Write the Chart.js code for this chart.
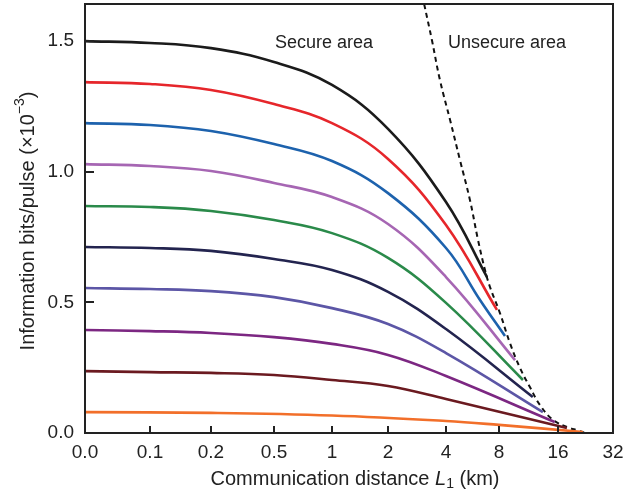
<!DOCTYPE html>
<html>
<head>
<meta charset="utf-8">
<script src="https://cdn.jsdelivr.net/npm/chart.js@4.4.1/dist/chart.umd.min.js"></script>
<style>
  html, body { margin: 0; padding: 0; background: #fff; }
  #wrap { width: 643px; height: 495px; }
</style>
</head>
<body>
<div id="wrap"><canvas id="c" width="643" height="495"></canvas></div>
<script>
// x axis: uneven break points drawn at (almost) equal spacing
const xTickValues = [0, 0.1, 0.2, 0.5, 1, 2, 4, 8, 16, 32];
const xTickLabels = ["0.0", "0.1", "0.2", "0.5", "1", "2", "4", "8", "16", "32"];
const yTickValues = [0, 0.5, 1.0, 1.5];

// curves, distance in km / information bits per pulse (x10^-3)
const baseKm = [0, 0.1, 0.2, 0.5, 1, 2, 4];
const blackKm = baseKm.concat([6.84]);
const blackVal = [1.5, 1.493, 1.473, 1.42, 1.332, 1.164, 0.884, 0.597];
const redKm = baseKm.concat([7.79]);
const redVal = [1.343, 1.336, 1.313, 1.259, 1.186, 1.049, 0.796, 0.471];
const blueKm = baseKm.concat([6.24, 8.58]);
const blueVal = [1.186, 1.179, 1.156, 1.106, 1.041, 0.918, 0.708, 0.509, 0.371];
const orchidKm = baseKm.concat([9.66]);
const orchidVal = [1.029, 1.022, 1.003, 0.957, 0.903, 0.8, 0.597, 0.279];
const greenKm = baseKm.concat([10.6]);
const greenVal = [0.869, 0.865, 0.85, 0.815, 0.765, 0.67, 0.498, 0.203];
const navyKm = baseKm.concat([11.9]);
const navyVal = [0.712, 0.708, 0.697, 0.666, 0.624, 0.54, 0.398, 0.138];
const slateKm = baseKm.concat([13.4]);
const slateVal = [0.555, 0.551, 0.543, 0.52, 0.478, 0.417, 0.306, 0.08];
const purpleKm = baseKm.concat([15.4]);
const purpleVal = [0.394, 0.39, 0.383, 0.367, 0.341, 0.299, 0.218, 0.042];
const maroonKm = baseKm.concat([17.9]);
const maroonVal = [0.237, 0.233, 0.23, 0.222, 0.203, 0.18, 0.13, 0.019];
const orangeKm = [0, 0.2, 1, 4, 8, 21.9];
const orangeVal = [0.08, 0.077, 0.067, 0.046, 0.031, 0.004];
// boundary between secure and unsecure area
const limitKm = [3.08, 3.38, 3.72, 4.22, 4.8, 5.47, 6.08, 6.66, 7.11, 8.09, 9.1, 10.24, 11.5, 12.95, 15.1, 18.6, 20.3, 22.5];
const limitVal = [1.642, 1.504, 1.351, 1.198, 1.045, 0.892, 0.739, 0.624, 0.559, 0.459, 0.344, 0.249, 0.176, 0.107, 0.05, 0.019, 0.011, 0.0];

// where each break point sits along the axis (fraction of width)
const tickFrac = [0, 0.1231, 0.2386, 0.358, 0.4678, 0.5739, 0.6837, 0.7841, 0.8958, 1];

function toFrac(v) {
  const t = xTickValues;
  if (v <= t[0]) return 0;
  for (let i = 0; i < t.length - 1; i++) {
    const a = t[i], b = t[i + 1];
    if (v <= b) {
      const u = a === 0 ? (v - a) / (b - a) : Math.log(v / a) / Math.log(b / a);
      return tickFrac[i] + u * (tickFrac[i + 1] - tickFrac[i]);
    }
  }
  return 1;
}
function fromFrac(f) {
  const t = xTickValues;
  for (let i = 0; i < t.length - 1; i++) {
    if (f <= tickFrac[i + 1]) {
      const u = (f - tickFrac[i]) / (tickFrac[i + 1] - tickFrac[i]);
      const a = t[i], b = t[i + 1];
      return a === 0 ? a + u * (b - a) : a * Math.pow(b / a, u);
    }
  }
  return t[t.length - 1];
}

class BreakScale extends Chart.LinearScale {
  buildTicks() {
    return xTickValues.map(v => ({ value: v }));
  }
  getPixelForValue(value) {
    return this.getPixelForDecimal(toFrac(value));
  }
  getValueForPixel(pixel) {
    return fromFrac(this.getDecimalForPixel(pixel));
  }
}
BreakScale.id = "breaks";
BreakScale.defaults = Chart.LinearScale.defaults;
Chart.register(BreakScale);

function pts(xs, ys) {
  return xs.map((x, i) => ({ x: x, y: ys[i] }));
}
function curve(xs, ys, color) {
  return {
    data: pts(xs, ys),
    borderColor: color,
    borderWidth: 2.6,
    pointRadius: 0,
    fill: false,
    tension: 0.4
  };
}

const FONT = "'Liberation Sans', Arial, Helvetica, sans-serif";

const decor = {
  id: "decor",
  afterDraw(chart) {
    const ctx = chart.ctx;
    const a = chart.chartArea;
    const xs = chart.scales.x, ys = chart.scales.y;
    ctx.save();
    ctx.strokeStyle = "#222";
    ctx.lineWidth = 2;
    ctx.strokeRect(a.left, a.top, a.right - a.left, a.bottom - a.top);
    // inward tick marks
    ctx.beginPath();
    xTickValues.slice(1, -1).forEach(v => {
      const px = Math.round(xs.getPixelForValue(v));
      ctx.moveTo(px, a.bottom);
      ctx.lineTo(px, a.bottom - 7);
    });
    yTickValues.slice(1).forEach(v => {
      const py = Math.round(ys.getPixelForValue(v));
      ctx.moveTo(a.left, py);
      ctx.lineTo(a.left + 9, py);
    });
    ctx.stroke();

    ctx.fillStyle = "#222";
    ctx.textBaseline = "middle";
    ctx.textAlign = "center";
    ctx.font = "18px " + FONT;
    ctx.fillText("Secure area", xs.getPixelForValue(0.909), ys.getPixelForValue(1.492));
    ctx.fillText("Unsecure area", xs.getPixelForValue(8.79), ys.getPixelForValue(1.492));

    // x axis title with italic L and subscript 1
    const parts = [
      { t: "Communication distance ", f: "20px " + FONT, dy: 0 },
      { t: "L", f: "italic 20px " + FONT, dy: 0 },
      { t: "1", f: "14px " + FONT, dy: 5 },
      { t: " (km)", f: "20px " + FONT, dy: 0 }
    ];
    drawParts(ctx, parts, (a.left + a.right) / 2 + 6, 479);

    // y axis title with superscript
    ctx.translate(28, 221);
    ctx.rotate(-Math.PI / 2);
    const yparts = [
      { t: "Information bits/pulse (\u00d710", f: "20px " + FONT, dy: 0 },
      { t: "\u22123", f: "14px " + FONT, dy: -8 },
      { t: ")", f: "20px " + FONT, dy: 0 }
    ];
    drawParts(ctx, yparts, 0, 0);
    ctx.restore();
  }
};

function drawParts(ctx, parts, cx, cy) {
  let total = 0;
  parts.forEach(p => { ctx.font = p.f; p.w = ctx.measureText(p.t).width; total += p.w; });
  let x = cx - total / 2;
  ctx.textAlign = "left";
  ctx.textBaseline = "middle";
  parts.forEach(p => {
    ctx.font = p.f;
    ctx.fillText(p.t, x, cy + p.dy);
    x += p.w;
  });
}

const ctx = document.getElementById("c").getContext("2d");
const myChart = new Chart(ctx, {
  type: "line",
  data: {
    datasets: [
      curve(blackKm, blackVal, "#1b1b1b"),
      curve(redKm, redVal, "#e6262b"),
      curve(blueKm, blueVal, "#1d62ad"),
      curve(orchidKm, orchidVal, "#a666b3"),
      curve(greenKm, greenVal, "#2a8a4a"),
      curve(navyKm, navyVal, "#23244f"),
      curve(slateKm, slateVal, "#5c56a6"),
      curve(purpleKm, purpleVal, "#7c2782"),
      curve(maroonKm, maroonVal, "#6b1a20"),
      curve(orangeKm, orangeVal, "#f26f2a"),
      {
        data: pts(limitKm, limitVal),
        borderColor: "#111",
        borderWidth: 2,
        borderDash: [5, 4],
        pointRadius: 0,
        fill: false,
        tension: 0.4
      }
    ]
  },
  options: {
    responsive: false,
    animation: false,
    layout: { padding: { top: 4, right: 30, left: 0, bottom: 0 } },
    plugins: { legend: { display: false }, tooltip: { enabled: false } },
    scales: {
      x: {
        type: "breaks",
        min: 0,
        max: 32,
        grid: { display: false, drawTicks: false },
        border: { display: false },
        afterFit: s => {
          s.height = 62;
          s.paddingLeft = 0;
          s.paddingRight = 0;
        },
        ticks: {
          autoSkip: false,
          maxRotation: 0,
          minRotation: 0,
          padding: 8,
          color: "#222",
          font: { size: 19, family: FONT },
          callback: (v, i) => xTickLabels[i]
        }
      },
      y: {
        type: "linear",
        min: 0,
        max: 1.642,
        grid: { display: false, drawTicks: false },
        border: { display: false },
        afterFit: s => {
          s.width = 85;
          s.paddingTop = 0;
          s.paddingBottom = 0;
        },
        afterBuildTicks: s => { s.ticks = yTickValues.map(v => ({ value: v })); },
        ticks: {
          padding: 11,
          color: "#222",
          font: { size: 19, family: FONT },
          callback: v => v.toFixed(1)
        }
      }
    }
  },
  plugins: [decor]
});
</script>
</body>
</html>
